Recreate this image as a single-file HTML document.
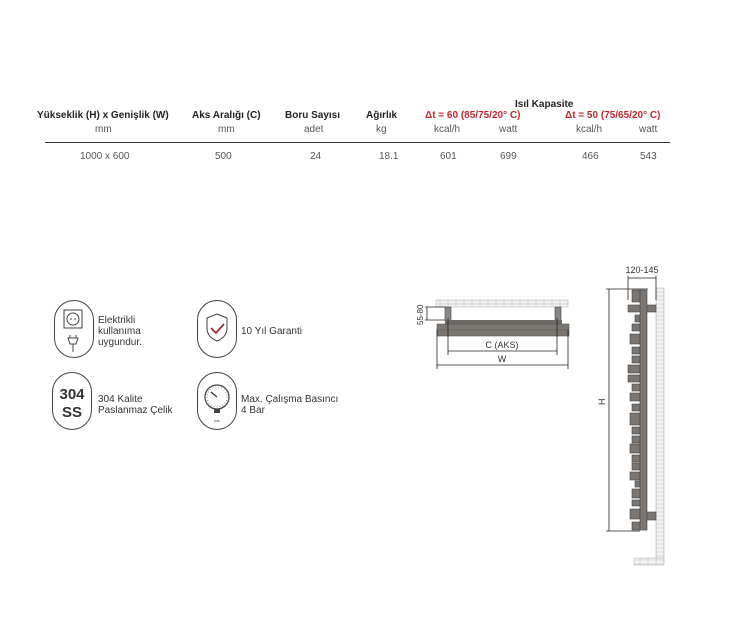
<!DOCTYPE html>
<html><head><meta charset="utf-8"><style>
body{margin:0;width:745px;height:634px;background:#fff;font-family:"Liberation Sans",sans-serif;color:#333;position:relative;overflow:hidden}
.t{position:absolute;white-space:nowrap;font-size:10px;text-align:center}
.b{font-weight:bold;color:#222}
.r{color:#c0282d;font-weight:bold}
.u{color:#555}
.ic{position:absolute;width:40px;height:58px;border:1.3px solid #444;border-radius:20px;box-sizing:border-box}
.lbl{position:absolute;font-size:10px;line-height:11px;color:#333}
</style></head><body>
<div class="t b" style="left:37px;top:110px">Yükseklik (H) x Genişlik (W)</div>
<div class="t u" style="left:95px;top:124px">mm</div>
<div class="t b" style="left:192px;top:110px">Aks Aralığı (C)</div>
<div class="t u" style="left:218px;top:124px">mm</div>
<div class="t b" style="left:285px;top:110px">Boru Sayısı</div>
<div class="t u" style="left:304px;top:124px">adet</div>
<div class="t b" style="left:366px;top:110px">Ağırlık</div>
<div class="t u" style="left:376px;top:124px">kg</div>
<div class="t b" style="left:515px;top:99px">Isıl Kapasite</div>
<div class="t r" style="left:425px;top:110px">Δt = 60 (85/75/20° C)</div>
<div class="t r" style="left:565px;top:110px">Δt = 50 (75/65/20° C)</div>
<div class="t u" style="left:434px;top:124px">kcal/h</div>
<div class="t u" style="left:499px;top:124px">watt</div>
<div class="t u" style="left:576px;top:124px">kcal/h</div>
<div class="t u" style="left:639px;top:124px">watt</div>
<div style="position:absolute;left:45px;top:142px;width:625px;height:1px;background:#333"></div>
<div class="t u" style="left:80px;top:151px">1000 x 600</div>
<div class="t u" style="left:215px;top:151px">500</div>
<div class="t u" style="left:310px;top:151px">24</div>
<div class="t u" style="left:379px;top:151px">18.1</div>
<div class="t u" style="left:440px;top:151px">601</div>
<div class="t u" style="left:500px;top:151px">699</div>
<div class="t u" style="left:582px;top:151px">466</div>
<div class="t u" style="left:640px;top:151px">543</div>

<div class="ic" style="left:54px;top:300px"></div>
<svg style="position:absolute;left:54px;top:300px" width="40" height="58"><rect x="10" y="10" width="18" height="18" fill="none" stroke="#444"/><circle cx="19" cy="19" r="6" fill="none" stroke="#444"/><circle cx="17" cy="19" r=".8" fill="#444"/><circle cx="21" cy="19" r=".8" fill="#444"/><path d="M14 38h10l-2 6h-6z M16 38v-3 M22 38v-3 M19 44v8" stroke="#444" fill="none"/></svg>
<div class="lbl" style="left:98px;top:315px">Elektrikli<br>kullanıma<br>uygundur.</div>
<div class="ic" style="left:197px;top:300px"></div>
<svg style="position:absolute;left:197px;top:300px" width="40" height="58"><path d="M20 14l10 4v10c0 7-5 11-10 13c-5-2-10-6-10-13V18z" fill="none" stroke="#444"/><path d="M14 28l5 5l8-9" stroke="#9b2a35" stroke-width="1.8" fill="none"/></svg>
<div class="lbl" style="left:241px;top:326px">10 Yıl Garanti</div>
<div class="ic" style="left:52px;top:372px"></div>
<div style="position:absolute;left:52px;top:386px;width:40px;text-align:center;font-weight:bold;font-size:15px;line-height:18px;color:#333">304<br>SS</div>
<div class="lbl" style="left:98px;top:394px">304 Kalite<br>Paslanmaz Çelik</div>
<div class="ic" style="left:197px;top:372px"></div>
<svg style="position:absolute;left:197px;top:372px" width="40" height="58"><circle cx="20" cy="25" r="12" fill="none" stroke="#444" stroke-width="1.3"/><circle cx="20" cy="25" r="10" fill="none" stroke="#888" stroke-dasharray="1 2"/><path d="M14 20l6 5" stroke="#333" stroke-width="1.3"/><rect x="17" y="37" width="6" height="4" fill="#444"/><text x="20" y="50" font-size="4" text-anchor="middle" fill="#444">bar</text></svg>
<div class="lbl" style="left:241px;top:394px">Max. Çalışma Basıncı<br>4 Bar</div>

<svg style="position:absolute;left:0;top:0" width="745" height="634">
<defs><pattern id="br" width="8" height="4" patternUnits="userSpaceOnUse"><rect width="8" height="4" fill="#f3f3f3" stroke="#bbb" stroke-width=".5"/></pattern></defs>
<!-- front view -->
<rect x="436" y="300" width="132" height="7" fill="url(#br)" stroke="#aaa" stroke-width=".5"/>
<rect x="445" y="307" width="6" height="14" fill="#888" stroke="#444" stroke-width=".6"/>
<rect x="555" y="307" width="6" height="14" fill="#888" stroke="#444" stroke-width=".6"/>
<rect x="445" y="320" width="117" height="4" fill="#6e6a66"/>
<rect x="437" y="324" width="132" height="12" fill="#7b7671" stroke="#555" stroke-width=".6"/>
<line x1="437" y1="330" x2="569" y2="330" stroke="#555" stroke-width=".5"/>
<g stroke="#222" stroke-width=".8"><line x1="448" y1="318" x2="448" y2="355"/><line x1="557" y1="318" x2="557" y2="355"/><line x1="437" y1="330" x2="437" y2="369"/><line x1="568" y1="330" x2="568" y2="369"/>
<line x1="448" y1="351" x2="557" y2="351"/><line x1="437" y1="365" x2="568" y2="365"/>
<line x1="425" y1="307" x2="445" y2="307"/><line x1="425" y1="320" x2="445" y2="320"/><line x1="427" y1="307" x2="427" y2="320"/></g>
<text x="502" y="348" font-size="9" text-anchor="middle" fill="#333" font-family="Liberation Sans">C (AKS)</text>
<text x="502" y="362" font-size="9" text-anchor="middle" fill="#333" font-family="Liberation Sans">W</text>
<text transform="translate(423,325) rotate(-90)" font-size="8" fill="#333" font-family="Liberation Sans">55-80</text>
<!-- side view -->
<rect x="656" y="288" width="8" height="272" fill="url(#br)" stroke="#aaa" stroke-width=".5"/>
<rect x="634" y="558" width="30" height="7" fill="url(#br)" stroke="#aaa" stroke-width=".5"/>
<g fill="#7b7671" stroke="#444" stroke-width=".6">
<rect x="628" y="305" width="28" height="7"/><rect x="646" y="512" width="10" height="8"/>
<rect x="632" y="290" width="8" height="12"/>
<rect x="635" y="315" width="5" height="7"/><rect x="632" y="324" width="8" height="7"/>
<rect x="630" y="334" width="10" height="10"/><rect x="632" y="347" width="8" height="7"/>
<rect x="632" y="356" width="8" height="7"/><rect x="628" y="365" width="12" height="8"/>
<rect x="628" y="375" width="12" height="7"/><rect x="632" y="384" width="8" height="7"/>
<rect x="630" y="393" width="10" height="8"/><rect x="632" y="404" width="8" height="7"/>
<rect x="630" y="413" width="10" height="12"/><rect x="632" y="427" width="8" height="7"/>
<rect x="632" y="436" width="8" height="7"/><rect x="630" y="444" width="10" height="9"/>
<rect x="632" y="455" width="8" height="7"/><rect x="632" y="463" width="8" height="7"/>
<rect x="630" y="472" width="10" height="8"/><rect x="635" y="481" width="5" height="6"/>
<rect x="632" y="489" width="8" height="9"/><rect x="632" y="500" width="8" height="6"/>
<rect x="630" y="509" width="10" height="10"/><rect x="632" y="522" width="8" height="8"/>
<rect x="640" y="290" width="7" height="240"/></g>
<g stroke="#222" stroke-width=".8"><line x1="609" y1="289" x2="609" y2="531"/><line x1="606" y1="289" x2="648" y2="289"/><line x1="606" y1="531" x2="640" y2="531"/>
<line x1="628" y1="276" x2="628" y2="300"/><line x1="656" y1="276" x2="656" y2="300"/><line x1="628" y1="278" x2="656" y2="278"/></g>
<text x="642" y="273" font-size="9" text-anchor="middle" fill="#333" font-family="Liberation Sans">120-145</text>
<text transform="translate(605,405) rotate(-90)" font-size="9" fill="#333" font-family="Liberation Sans">H</text>
</svg>
</body></html>
